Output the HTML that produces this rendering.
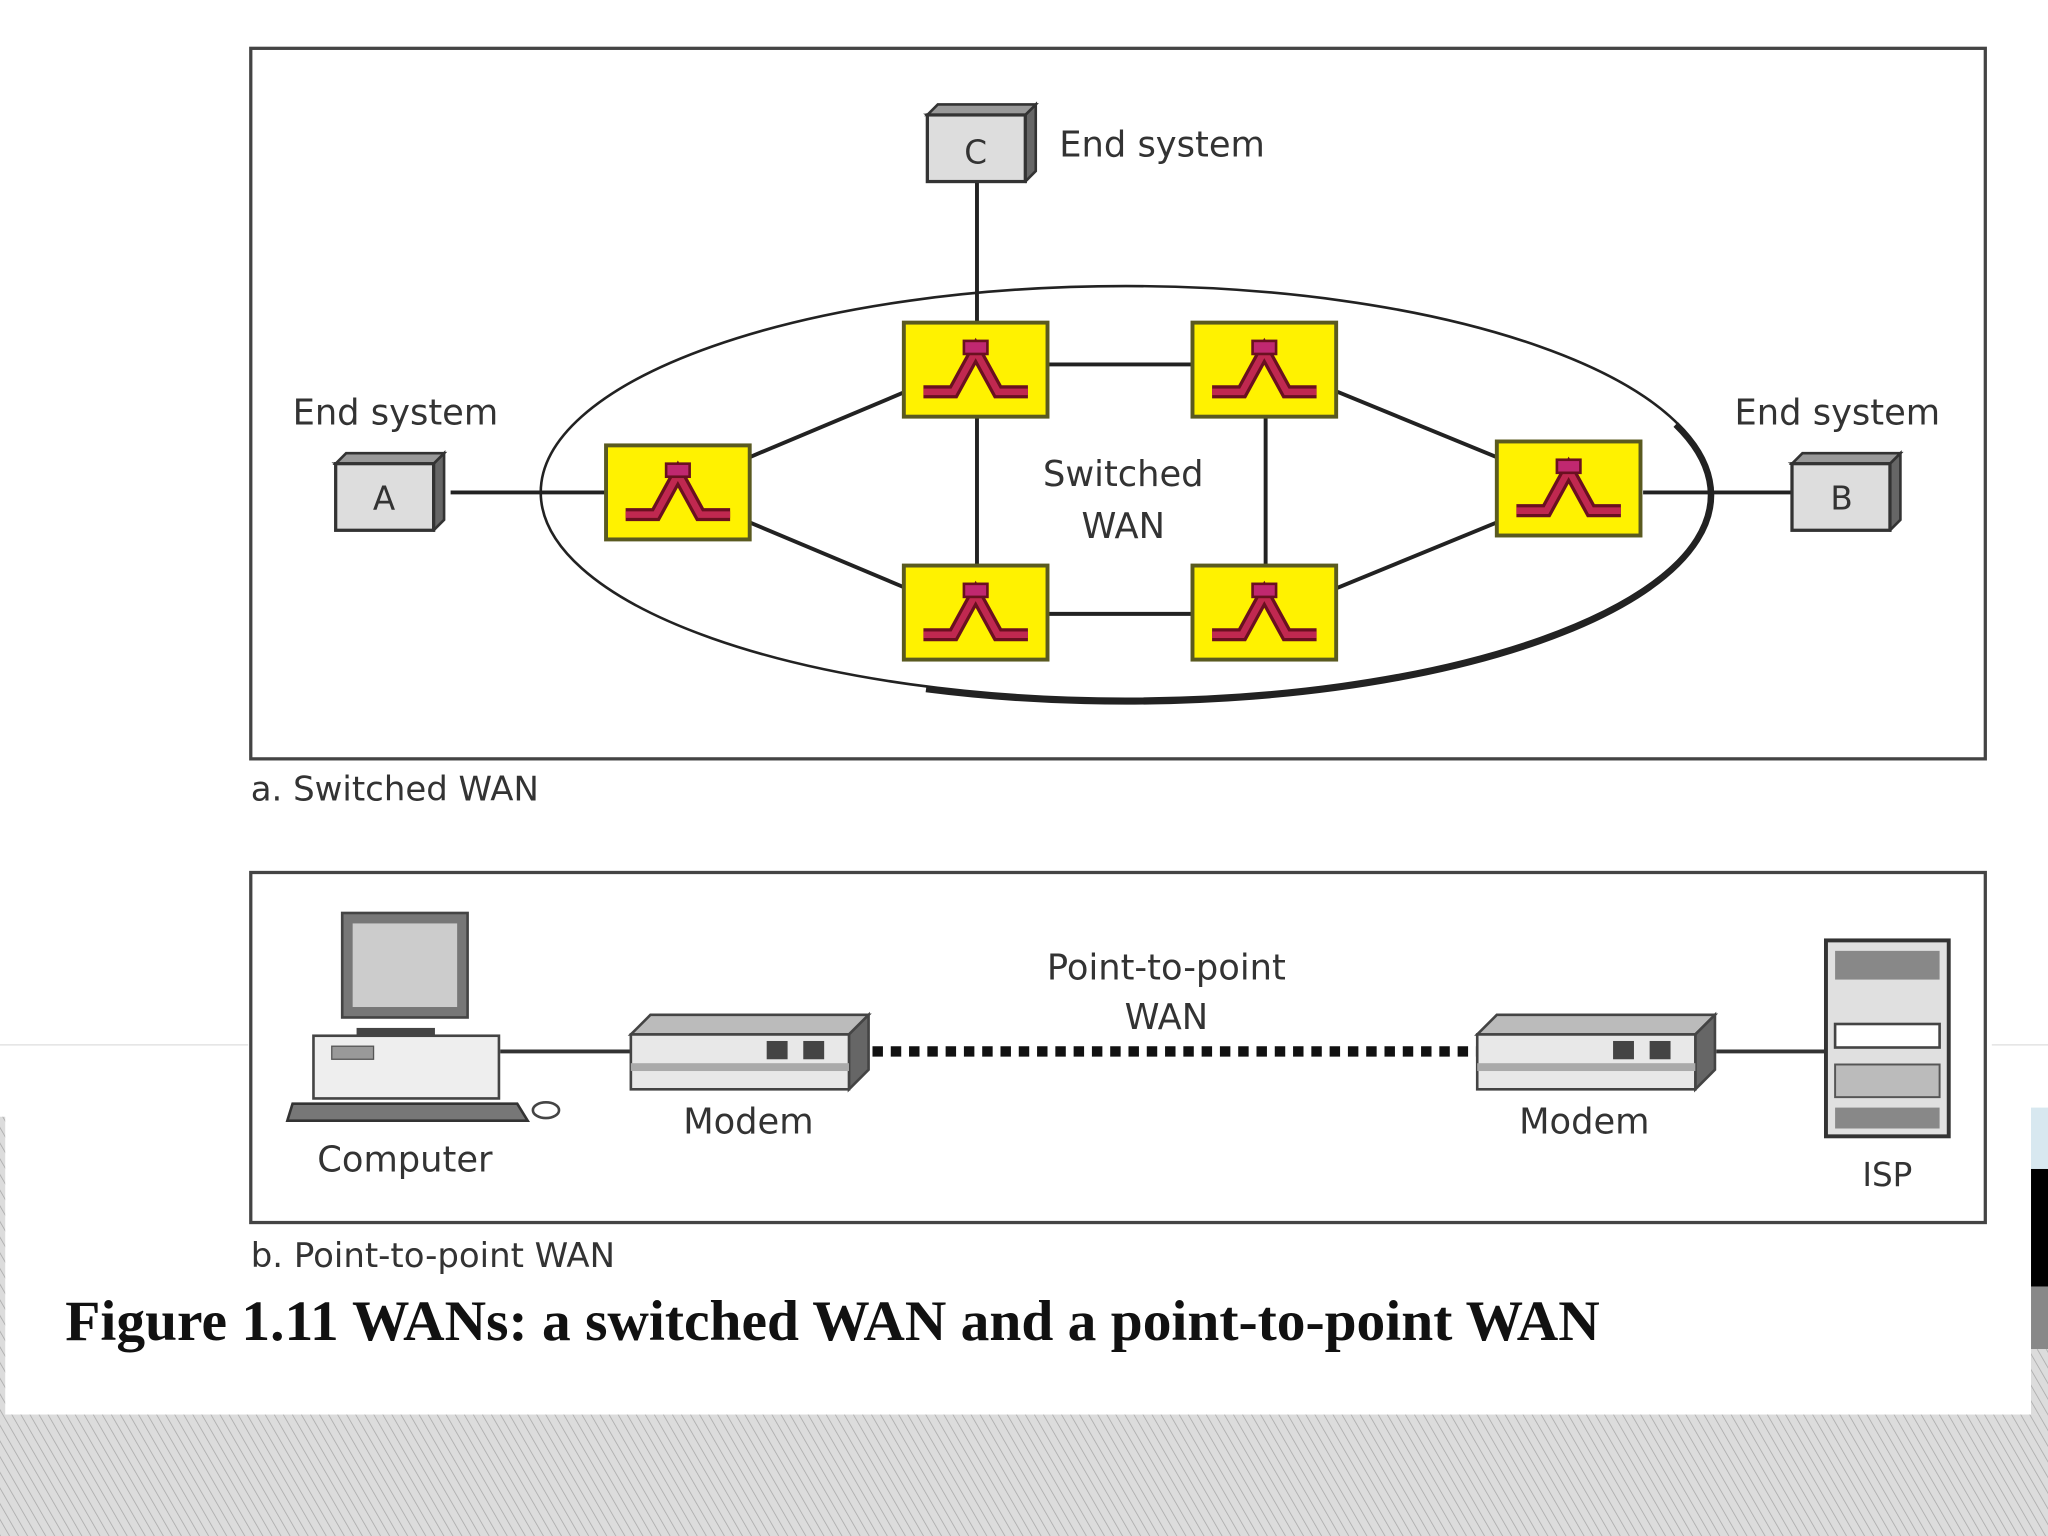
<!DOCTYPE html>
<html><head><meta charset="utf-8"><style>html,body{margin:0;padding:0;background:#fff}svg{display:block}</style></head>
<body>
<svg width="2048" height="1536" viewBox="0 0 1568 1176" preserveAspectRatio="none" xmlns="http://www.w3.org/2000/svg">
<defs>
<pattern id="h" width="6" height="6" patternUnits="userSpaceOnUse" patternTransform="rotate(-30)">
<rect width="6" height="6" fill="#dcdcdc"/><line x1="0" y1="0" x2="0" y2="6" stroke="#a8a8a8" stroke-width="1.2"/></pattern>
<g id="sw">
<rect x="-55" y="-36" width="110" height="72" fill="#fff200" stroke="#5a5a20" stroke-width="3"/>
<path d="M-40,17 L-17,17 L0,-14 L17,17 L40,17" fill="none" stroke="#6a1020" stroke-width="10"/>
<path d="M-40,17 L-17,17 L0,-14 L17,17 L40,17" fill="none" stroke="#c02850" stroke-width="5"/>
<rect x="-9" y="-22" width="18" height="10" fill="#c02870" stroke="#6a1020" stroke-width="2"/>
</g>
<g id="es">
<path d="M0,0 L75,0 L83,-8 L83,43 L75,51 Z" fill="#666" stroke="#333" stroke-width="2"/>
<path d="M0,0 L8,-8 L83,-8 L75,0Z" fill="#999" stroke="#333" stroke-width="2"/>
<rect x="0" y="0" width="75" height="51" fill="#ddd" stroke="#333" stroke-width="2.5"/>
</g>
<g id="mod">
<path d="M0,15 L15,0 L182,0 L167,15Z" fill="#bbb" stroke="#444" stroke-width="2"/>
<path d="M167,15 L182,0 L182,42 L167,57Z" fill="#666" stroke="#444" stroke-width="2"/>
<rect x="0" y="15" width="167" height="42" fill="#e8e8e8" stroke="#444" stroke-width="2"/>
<rect x="0" y="37" width="167" height="6" fill="#aaa"/>
<rect x="104" y="20" width="16" height="14" fill="#444"/><rect x="132" y="20" width="16" height="14" fill="#444"/>
</g>
</defs>
<rect width="1568" height="1176" fill="#fff"/>
<rect x="0" y="1083" width="1568" height="93" fill="url(#h)"/>
<rect x="0" y="855" width="4" height="230" fill="url(#h)"/>
<rect x="1555" y="848" width="13" height="47" fill="#d8e8f0"/>
<rect x="1555" y="895" width="13" height="90" fill="#000"/>
<rect x="1555" y="985" width="13" height="48" fill="#888"/>
<rect x="1555" y="1033" width="13" height="50" fill="url(#h)"/>
<line x1="0" y1="800" x2="190" y2="800" stroke="#ddd" stroke-width="1"/>
<line x1="1525" y1="800" x2="1568" y2="800" stroke="#ddd" stroke-width="1"/>

<g font-family="'DejaVu Sans','Liberation Sans',sans-serif" fill="#333">
<!-- part a -->
<rect x="192" y="37" width="1328" height="544" fill="none" stroke="#444" stroke-width="2.5"/>
<ellipse cx="862" cy="377" rx="448" ry="158" fill="none" stroke="#222" stroke-width="2"/>
<path d="M1283,325 A448,158 0 0 1 709,527.5" fill="none" stroke="#222" stroke-width="5"/>
<g stroke="#222" stroke-width="3">
<line x1="345" y1="377" x2="465" y2="377"/>
<line x1="1258" y1="377" x2="1372" y2="377"/>
<line x1="748" y1="138" x2="748" y2="247"/>
<line x1="574" y1="350" x2="693" y2="300"/>
<line x1="574" y1="400" x2="693" y2="450"/>
<line x1="748" y1="320" x2="748" y2="433"/>
<line x1="969" y1="320" x2="969" y2="433"/>
<line x1="802" y1="279" x2="914" y2="279"/>
<line x1="802" y1="470" x2="914" y2="470"/>
<line x1="1024" y1="300" x2="1146" y2="350"/>
<line x1="1024" y1="450" x2="1146" y2="400"/>
</g>
<use href="#sw" x="519" y="377"/><use href="#sw" x="747" y="283"/><use href="#sw" x="968" y="283"/>
<use href="#sw" x="747" y="469"/><use href="#sw" x="968" y="469"/><use href="#sw" x="1201" y="374"/>
<use href="#es" x="710" y="88"/><use href="#es" x="257" y="355"/><use href="#es" x="1372" y="355"/>
<text x="747" y="125" font-size="25" text-anchor="middle">C</text>
<text x="294" y="390" font-size="25" text-anchor="middle">A</text>
<text x="1410" y="390" font-size="25" text-anchor="middle">B</text>
<text x="811" y="120" font-size="27">End system</text>
<text x="224" y="325" font-size="27">End system</text>
<text x="1328" y="325" font-size="27">End system</text>
<text x="860" y="372" font-size="27" text-anchor="middle">Switched</text>
<text x="860" y="412" font-size="27" text-anchor="middle">WAN</text>
<text x="192" y="613" font-size="26">a. Switched WAN</text>

<!-- part b -->
<rect x="192" y="668" width="1328" height="268" fill="none" stroke="#444" stroke-width="2.5"/>
<line x1="383" y1="805" x2="483" y2="805" stroke="#333" stroke-width="3"/>
<line x1="1314" y1="805" x2="1398" y2="805" stroke="#333" stroke-width="3"/>
<line x1="668" y1="805" x2="1131" y2="805" stroke="#111" stroke-width="8" stroke-dasharray="8,6"/>
<!-- computer -->
<rect x="262" y="699" width="96" height="80" fill="#777" stroke="#444" stroke-width="2"/>
<rect x="270" y="707" width="80" height="64" fill="#ccc"/>
<rect x="273" y="787" width="60" height="8" fill="#444"/>
<rect x="240" y="793" width="142" height="48" fill="#eee" stroke="#444" stroke-width="2"/>
<rect x="254" y="801" width="32" height="10" fill="#999" stroke="#555"/>
<path d="M224,845 L396,845 L404,858 L220,858Z" fill="#777" stroke="#333" stroke-width="2"/>
<ellipse cx="418" cy="850" rx="10" ry="6" fill="none" stroke="#444" stroke-width="2"/>
<use href="#mod" x="483" y="777"/><use href="#mod" x="1131" y="777"/>
<!-- server -->
<rect x="1398" y="720" width="94" height="150" fill="#e0e0e0" stroke="#333" stroke-width="3"/>
<rect x="1405" y="728" width="80" height="22" fill="#888"/>
<rect x="1405" y="784" width="80" height="18" fill="#fff" stroke="#444" stroke-width="2"/>
<rect x="1405" y="815" width="80" height="25" fill="#bbb" stroke="#555" stroke-width="1.5"/>
<rect x="1405" y="848" width="80" height="16" fill="#888"/>
<text x="893" y="750" font-size="27" text-anchor="middle">Point-to-point</text>
<text x="893" y="788" font-size="27" text-anchor="middle">WAN</text>
<text x="573" y="868" font-size="27" text-anchor="middle">Modem</text>
<text x="1213" y="868" font-size="27" text-anchor="middle">Modem</text>
<text x="310" y="897" font-size="27" text-anchor="middle">Computer</text>
<text x="1445" y="908" font-size="25" text-anchor="middle">ISP</text>
<text x="192" y="970" font-size="26">b. Point-to-point WAN</text>
</g>
<text x="50" y="1026" font-family="'Liberation Serif',serif" font-weight="bold" font-size="44" fill="#111">Figure 1.11 WANs: a switched WAN and a point-to-point WAN</text>
</svg>
</body></html>
